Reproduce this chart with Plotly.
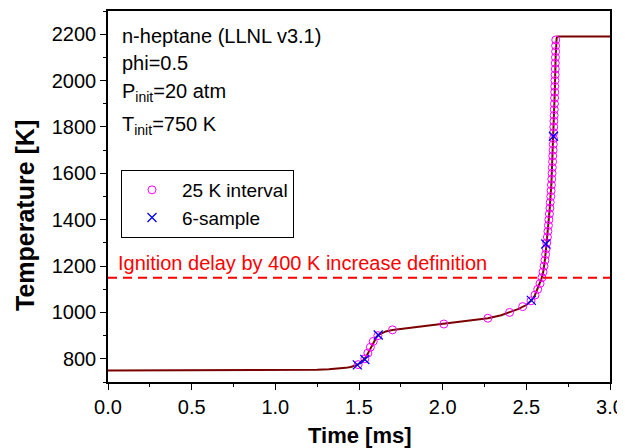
import plotly.graph_objects as go

# ── data ─────────────────────────────────────────────────────────────────────
curve_t = [0.0, 1.0, 1.15, 1.25, 1.32, 1.38, 1.42, 1.45, 1.48, 1.51, 1.53,
           1.545, 1.56, 1.575, 1.59, 1.605, 1.62, 1.64, 1.66, 1.70, 1.8, 1.9,
           2.0, 2.1, 2.2, 2.27, 2.35, 2.4, 2.45, 2.5, 2.53, 2.55, 2.57, 2.59,
           2.60, 2.61, 2.62, 2.63, 2.64, 2.65, 2.66, 2.665, 2.67, 2.675,
           2.678, 2.681, 2.685, 3.0]
curve_T = [750, 751, 752, 753, 755, 758, 761, 765, 771, 783, 797,
           812, 834, 857, 878, 894, 905, 913, 918, 924, 933, 941,
           949, 957, 966, 975, 988, 1000, 1014, 1032, 1052, 1072, 1105, 1145,
           1172, 1220, 1290, 1365, 1450, 1560, 1720, 1830, 1950, 2100,
           2160, 2182, 2190, 2190]

interval_t = [1.495, 1.535, 1.553, 1.568, 1.585, 1.613, 1.700, 2.007, 2.270,
              2.400, 2.478, 2.528, 2.552, 2.568, 2.582, 2.593, 2.600, 2.606,
              2.611, 2.615, 2.619, 2.622, 2.626, 2.629, 2.632, 2.635, 2.638,
              2.641, 2.643, 2.646, 2.648, 2.650, 2.652, 2.654, 2.655, 2.657,
              2.658, 2.660, 2.661, 2.662, 2.663, 2.664, 2.665, 2.666, 2.667,
              2.668, 2.669, 2.670, 2.670, 2.671, 2.672, 2.673, 2.673, 2.674,
              2.675, 2.675, 2.676]
interval_T = [775, 800, 825, 850, 875, 900, 925, 950, 975, 1000, 1025, 1050,
              1075, 1100, 1125, 1150, 1175, 1200, 1225, 1250, 1275, 1300,
              1325, 1350, 1375, 1400, 1425, 1450, 1475, 1500, 1525, 1550,
              1575, 1600, 1625, 1650, 1675, 1700, 1725, 1750, 1775, 1800,
              1825, 1850, 1875, 1900, 1925, 1950, 1975, 2000, 2025, 2050,
              2075, 2100, 2125, 2150, 2175]

sample_t = [1.490, 1.535, 1.615, 2.530, 2.616, 2.662]
sample_T = [774, 797, 903, 1052, 1295, 1760]

ignition_T = 1150  # 750 K + 400 K

info_lines = [
    "n-heptane (LLNL v3.1)",
    "phi=0.5",
    "P<sub>init</sub>=20 atm",
    "T<sub>init</sub>=750 K",
]
info_ypix = [36, 63, 92, 125]

FONT = "Liberation Sans, Arial, sans-serif"

# the page body has an 8px margin, so the figure is shrunk by that much
OFF = 8
W, H = 625 - OFF, 448 - OFF
# plot box, in page pixels
X0, X1, Y0, Y1 = 108, 610, 11, 382
L, R, T, B = X0 - OFF, 625 - X1, Y0 - OFF, 448 - Y1
PW, PH = X1 - X0, Y1 - Y0


def px_x(xp):
    return (xp - X0) / PW


def px_y(yp):
    return (Y1 - yp) / PH


fig = go.Figure()

fig.add_trace(go.Scatter(
    x=curve_t, y=curve_T, mode="lines", line=dict(color="#7a0000", width=2),
    showlegend=False, hoverinfo="skip",
))
fig.add_trace(go.Scatter(
    x=interval_t, y=interval_T, mode="markers", name="25 K interval",
    marker=dict(symbol="circle-open", color="#ff00ff", size=8,
                line=dict(width=1)),
))
fig.add_trace(go.Scatter(
    x=sample_t, y=sample_T, mode="markers", name="6-sample",
    marker=dict(symbol="x-thin-open", color="#0000ff", size=9,
                line=dict(width=1.3, color="#0000ff")),
))

fig.add_shape(type="line", xref="paper", yref="y", x0=0, x1=1,
              y0=ignition_T, y1=ignition_T,
              line=dict(color="#ff0000", width=2, dash="9px,6px"))

fig.add_annotation(
    xref="paper", yref="paper", x=px_x(116), y=px_y(263),
    xanchor="left", yanchor="middle", showarrow=False,
    text="Ignition delay by 400 K increase definition",
    font=dict(family=FONT, size=20, color="#ff0000"),
)

for txt, ypix in zip(info_lines, info_ypix):
    fig.add_annotation(
        xref="paper", yref="paper", x=px_x(120), y=px_y(ypix),
        xanchor="left", yanchor="middle", showarrow=False, text=txt,
        font=dict(family=FONT, size=20, color="black"),
    )

# axis titles
fig.add_annotation(
    xref="paper", yref="paper", x=px_x(360), y=px_y(435),
    xanchor="center", yanchor="middle", showarrow=False,
    text="<b>Time [ms]</b>", font=dict(family=FONT, size=22, color="black"),
)
fig.add_annotation(
    xref="paper", yref="paper", x=px_x(25), y=px_y(216),
    xanchor="center", yanchor="middle", showarrow=False, textangle=-90,
    text="<b>Temperature [K]</b>",
    font=dict(family=FONT, size=25, color="black"),
)

axis_common = dict(
    showline=True, linecolor="black", linewidth=1.5, mirror=True,
    ticks="outside", ticklen=6, tickwidth=1.3, tickcolor="black",
    showgrid=False, zeroline=False, automargin=False,
    tickfont=dict(family=FONT, size=20, color="black"),
)

fig.update_xaxes(
    range=[0, 3], dtick=0.5, tickformat=".1f",
    minor=dict(ticks="outside", dtick=0.25, ticklen=3, tickcolor="black"),
    **axis_common,
)
fig.update_yaxes(
    range=[700, 2300], tickvals=[800, 1000, 1200, 1400, 1600, 1800, 2000, 2200],
    minor=dict(ticks="outside", dtick=100, ticklen=3, tickcolor="black"),
    **axis_common,
)

fig.update_layout(
    width=W, height=H,
    margin=dict(l=L, r=R, t=T, b=B),
    plot_bgcolor="white", paper_bgcolor="white",
    font=dict(family=FONT, color="black"),
    legend=dict(
        x=px_x(121), y=px_y(170), xanchor="left", yanchor="top",
        bordercolor="black", borderwidth=1, bgcolor="white",
        font=dict(family=FONT, size=19, color="black"),
        itemwidth=50, tracegroupgap=0,
    ),
)

fig.write_html("out.html")
